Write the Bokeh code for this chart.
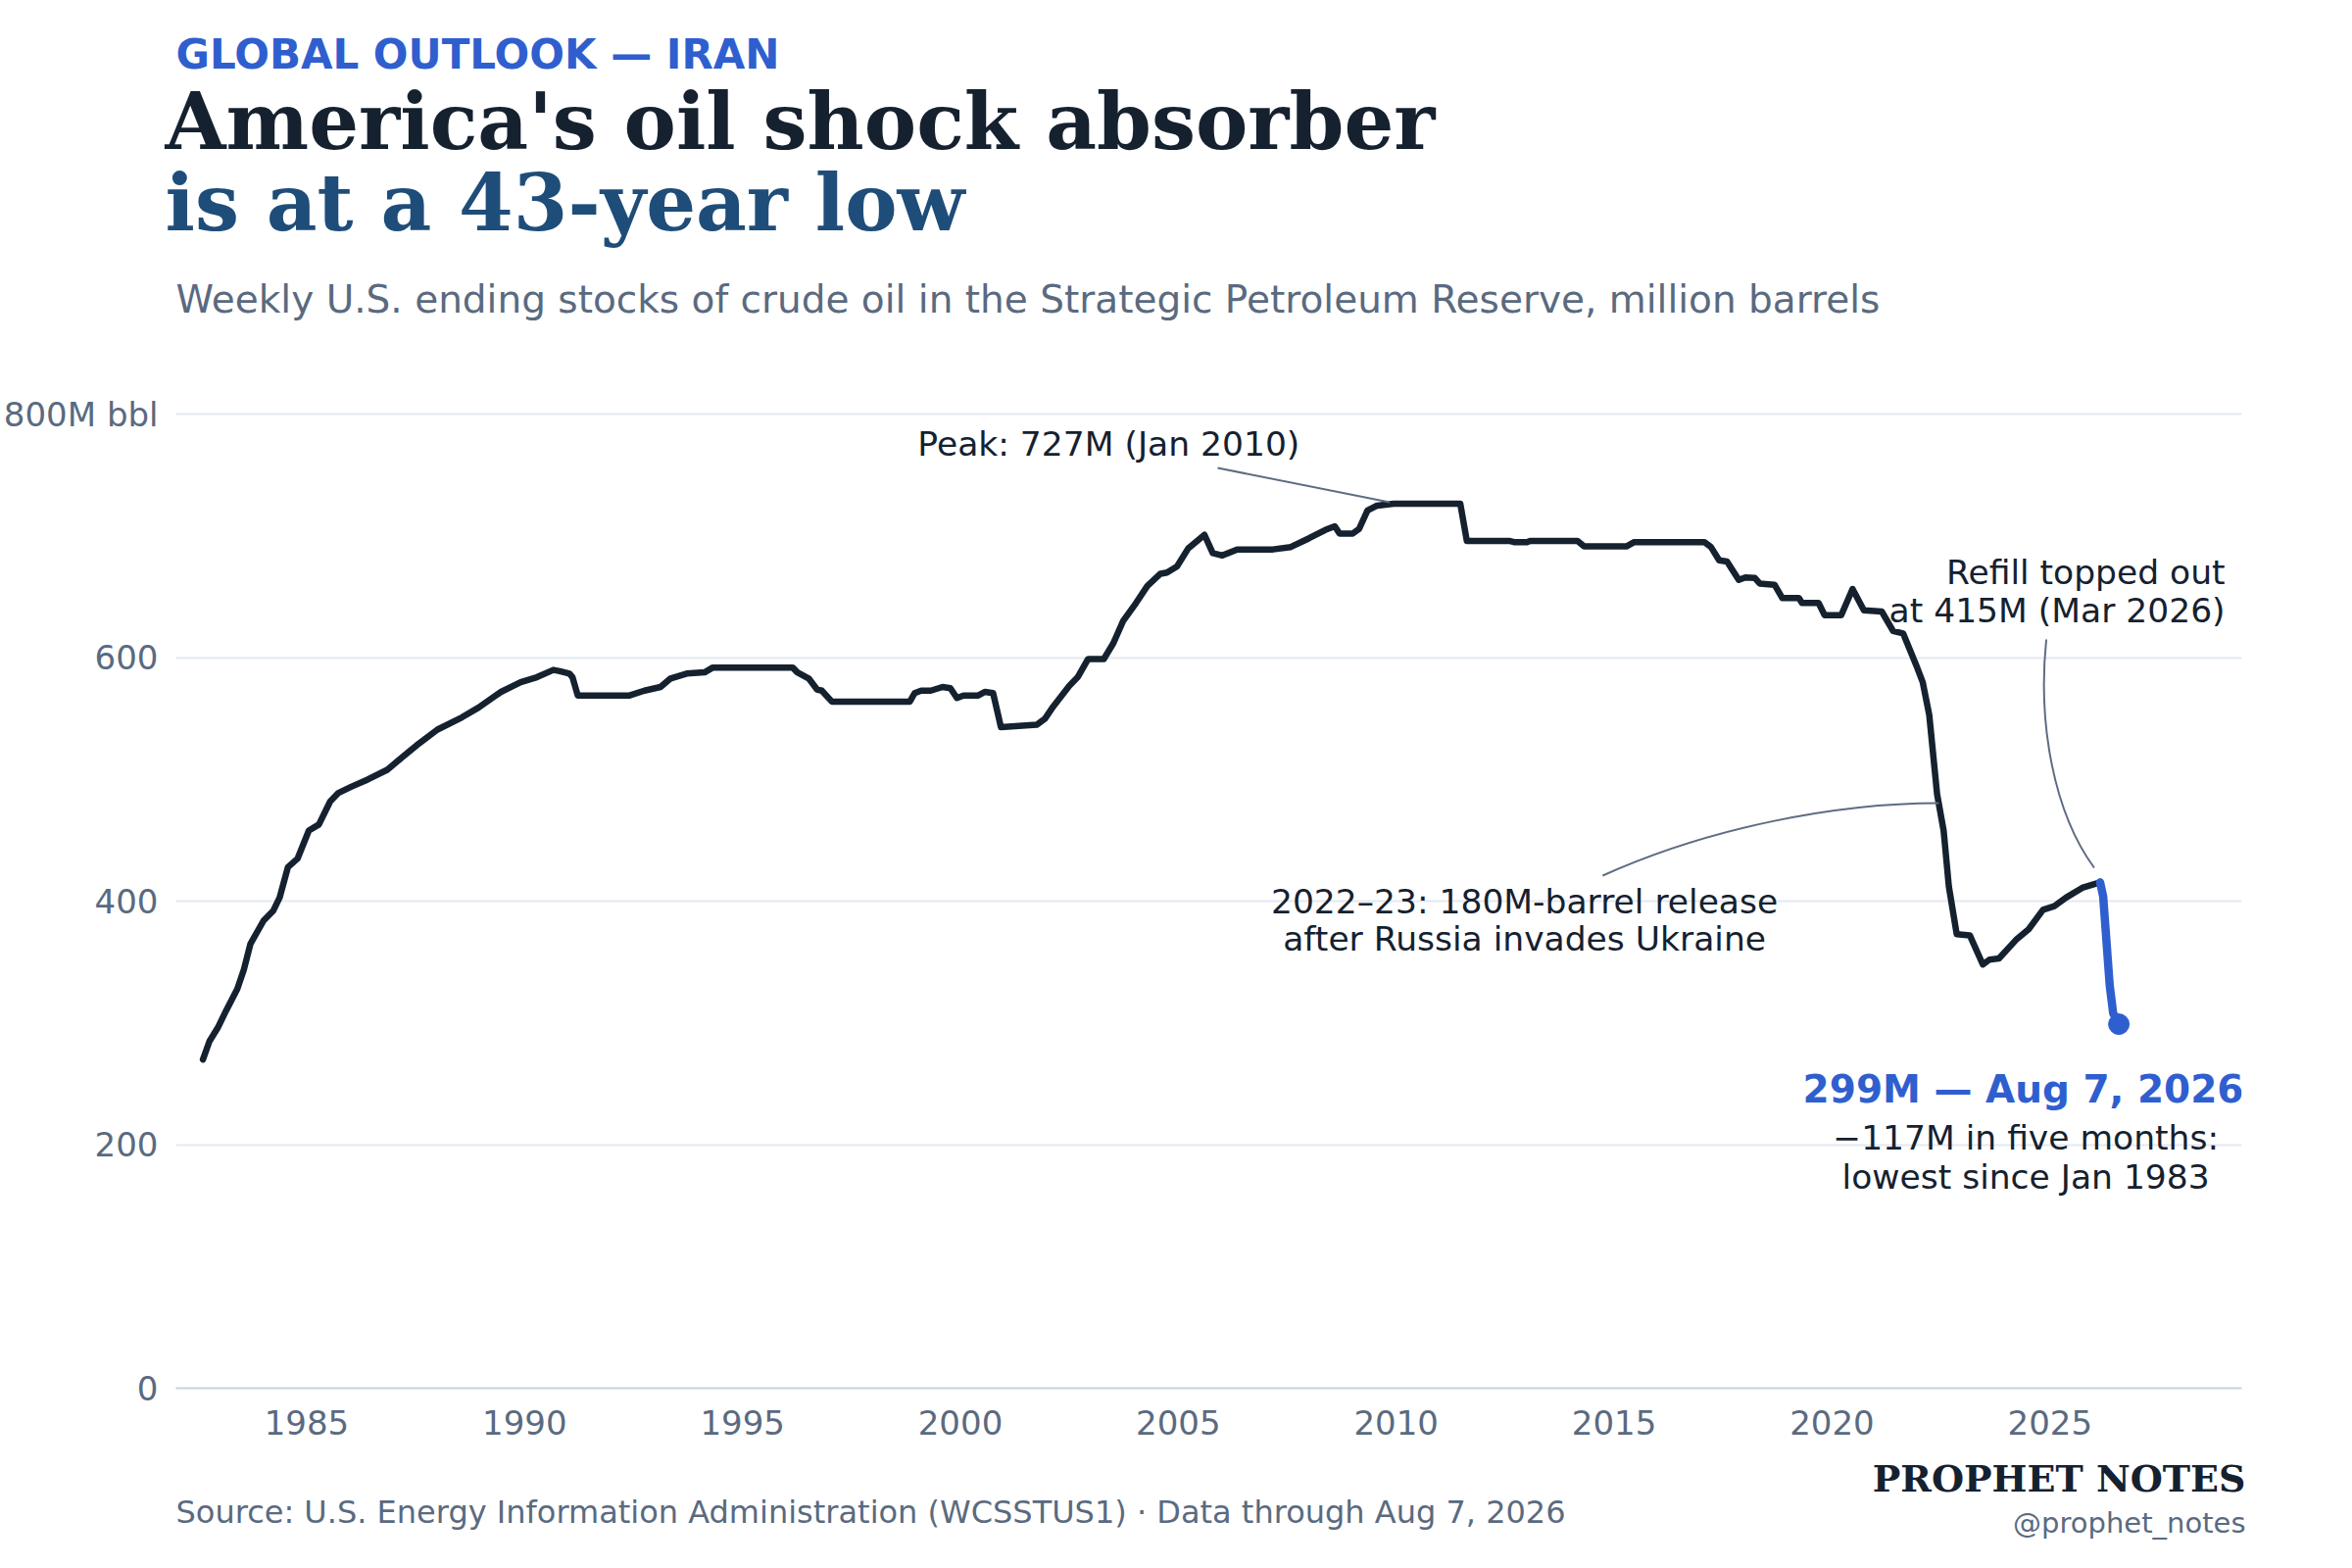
from bokeh.plotting import figure
from bokeh.layouts import column, row
from bokeh.models import Range1d, Label, FixedTicker
from bokeh.embed import file_html
from bokeh.resources import INLINE

# Weekly SPR ending stocks (million barrels)
years = [
    1982.62, 1982.77, 1982.96, 1983.15, 1983.41, 1983.56, 1983.71, 1984.01, 1984.23, 1984.38,
    1984.57, 1984.79, 1985.05, 1985.28, 1985.54, 1985.73, 1986.02, 1986.40, 1986.85, 1987.15,
    1987.52, 1988.00, 1988.56, 1988.94, 1989.46, 1989.91, 1990.28, 1990.66, 1990.81, 1991.03,
    1991.10, 1991.22, 1992.41, 1992.75, 1993.12, 1993.35, 1993.72, 1994.13, 1994.32, 1996.15,
    1996.26, 1996.52, 1996.71, 1996.82, 1997.05, 1998.84, 1998.95, 1999.10, 1999.32, 1999.59,
    1999.77, 1999.92, 2000.07, 2000.41, 2000.56, 2000.75, 2000.93, 2001.34, 2001.75, 2001.94,
    2002.13, 2002.50, 2002.69, 2002.93, 2003.29, 2003.51, 2003.73, 2004.03, 2004.29, 2004.59,
    2004.74, 2004.97, 2005.23, 2005.60, 2005.79, 2006.01, 2006.35, 2007.17, 2007.58, 2007.99,
    2008.37, 2008.59, 2008.70, 2009.00, 2009.15, 2009.34, 2009.56, 2009.94, 2011.47, 2011.62,
    2012.59, 2012.70, 2013.00, 2013.07, 2014.16, 2014.31, 2015.28, 2015.46, 2017.07, 2017.22,
    2017.41, 2017.59, 2017.86, 2018.01, 2018.23, 2018.34, 2018.68, 2018.86, 2019.24, 2019.31,
    2019.69, 2019.83, 2020.21, 2020.47, 2020.73, 2021.14, 2021.40, 2021.63, 2021.78, 2021.93,
    2022.08, 2022.23, 2022.41, 2022.56, 2022.68, 2022.86, 2023.16, 2023.46, 2023.61, 2023.83,
    2024.24, 2024.51, 2024.84, 2025.10, 2025.37, 2025.74, 2026.15,
]
stocks = [
    270, 285, 296, 310, 328, 344, 365, 384, 392, 403,
    428, 435, 458, 463, 482, 489, 494, 500, 508, 517,
    528, 541, 551, 559, 572, 580, 584, 590, 589, 587,
    584, 569, 569, 573, 576, 583, 587, 588, 592, 592,
    588, 583, 574, 573, 564, 564, 571, 573, 573, 576,
    575, 567, 569, 569, 572, 571, 543, 544, 545, 550,
    560, 577, 584, 599, 599, 612, 630, 645, 659, 669,
    670, 675, 690, 701, 686, 684, 689, 689, 691, 698,
    705, 708, 702, 702, 706, 721, 725, 726.5, 726.5, 696,
    696, 695, 695, 696, 696, 691.5, 691.5, 695, 695, 691,
    680, 679, 664, 666, 665.5, 661, 660, 649, 649, 645,
    645, 635, 635, 656.5, 639, 638, 622, 620, 607, 594,
    580, 553, 488, 458, 412, 373, 372, 348, 352, 353,
    369, 377, 393, 396, 403, 411, 415.5,
]

# the 2026 drawdown, drawn in blue
recent_years = [2026.15, 2026.22, 2026.37, 2026.45, 2026.58]
recent_stocks = [415.5, 404, 331, 308, 299]

x_ticks = [1985, 1990, 1995, 2000, 2005, 2010, 2015, 2020, 2025]
y_ticks = [0, 200, 400, 600, 800]

SANS = "DejaVu Sans"
SERIF = "DejaVu Serif"
INK = "#15212f"
NAVY = "#1f4d79"
BLUE = "#2f5fcf"
GRAY = "#5a6a80"
GRID = "#e4e9f1"
LEADER = "#5d6c82"

W = 2384
PAGE_TOP = 1
STRIP_LEFT = 3
HEAD_H, MAIN_H, FOOT_H = 385, 1101, 98
X0, X1 = 1982.0, 2029.4
Y0, Y1 = 0, 830
LEFT, RIGHT, BOTTOM = 173, 97, 70

# page pixel positions of the main frame
F_LEFT, F_RIGHT = 8 + LEFT, 8 + W - RIGHT
F_TOP = PAGE_TOP + HEAD_H
F_BOTTOM = F_TOP + MAIN_H - BOTTOM


def fx(px):
    return X0 + (px - F_LEFT) / (F_RIGHT - F_LEFT) * (X1 - X0)


def fy(py):
    return Y0 + (F_BOTTOM - py) / (F_BOTTOM - F_TOP) * (Y1 - Y0)


def text_panel(top, height):
    # a blank strip whose data units are page pixels
    f = figure(width=W, height=height, x_range=Range1d(STRIP_LEFT, STRIP_LEFT + W),
               y_range=Range1d(top + height, top), output_backend="svg",
               toolbar_location=None, title=None, min_border=0)
    f.axis.visible = False
    f.grid.grid_line_color = None
    f.outline_line_color = None
    return f


def label(fig, text, x, y, size, color, font=SANS, style="normal", align="left"):
    fig.add_layout(Label(x=x, y=y, text=text, text_font=font, text_font_size=size,
                         text_color=color, text_font_style=style,
                         text_align=align, text_baseline="alphabetic"))


# header (y given as the visual middle of each line)
head = text_panel(PAGE_TOP, HEAD_H)
label(head, "GLOBAL OUTLOOK — IRAN", 182, 56, "42px", BLUE, style="bold")
label(head, "America's oil shock absorber", 171, 124, "80px", INK, font=SERIF, style="bold")
label(head, "is at a 43-year low", 171, 207, "80px", NAVY, font=SERIF, style="bold")
label(head, "Weekly U.S. ending stocks of crude oil in the Strategic Petroleum Reserve, million barrels",
      182, 306, "39px", GRAY)

# main chart
p = figure(width=W, height=MAIN_H, x_range=Range1d(X0, X1), y_range=Range1d(Y0, Y1),
           output_backend="svg", toolbar_location=None, title=None,
           min_border_left=LEFT, min_border_right=RIGHT,
           min_border_top=0, min_border_bottom=BOTTOM)
p.outline_line_color = None

p.xgrid.grid_line_color = None
p.ygrid.grid_line_color = GRID
p.ygrid.grid_line_width = 2
p.ygrid.ticker = FixedTicker(ticks=y_ticks)

p.xaxis.ticker = FixedTicker(ticks=x_ticks)
p.xaxis.axis_line_color = "#c9d1dc"
p.xaxis.axis_line_width = 2
p.xaxis.major_tick_line_color = None
p.xaxis.minor_tick_line_color = None
p.xaxis.major_label_text_font = SANS
p.xaxis.major_label_text_font_size = "34px"
p.xaxis.major_label_text_color = GRAY
p.xaxis.major_label_standoff = 16

p.yaxis.ticker = FixedTicker(ticks=y_ticks)
p.yaxis.major_label_overrides = {800: "800M bbl"}
p.yaxis.axis_line_color = None
p.yaxis.major_tick_line_color = None
p.yaxis.minor_tick_line_color = None
p.yaxis.major_label_text_font = SANS
p.yaxis.major_label_text_font_size = "34px"
p.yaxis.major_label_text_color = GRAY
p.yaxis.major_label_standoff = 12

p.line(years, stocks, line_color=INK, line_width=6.5, line_join="round", line_cap="round")
p.line(recent_years, recent_stocks, line_color=BLUE, line_width=8.5, line_join="round", line_cap="round")
p.scatter([recent_years[-1]], [recent_stocks[-1]], size=21, color=BLUE)

# leader lines
p.segment(x0=[fx(1247)], y0=[fy(478)], x1=[fx(1423)], y1=[fy(513)],
          line_color=LEADER, line_width=2)
p.bezier(x0=[fx(1641)], y0=[fy(894)], x1=[fx(1985)], y1=[fy(820)],
         cx0=[fx(1750)], cy0=[fy(845)], cx1=[fx(1880)], cy1=[fy(820)],
         line_color=LEADER, line_width=2)
p.bezier(x0=[fx(2095)], y0=[fy(653)], x1=[fx(2144)], y1=[fy(886)],
         cx0=[fx(2086)], cy0=[fy(740)], cx1=[fx(2103)], cy1=[fy(830)],
         line_color=LEADER, line_width=2)


def note(text, px, py, size, color, style="normal", align="left"):
    label(p, text, fx(px), fy(py), size, color, style=style, align=align)


note("Peak: 727M (Jan 2010)", 940, 453, "34.5px", INK)
note("Refill topped out", 2278, 584, "34.5px", INK, align="right")
note("at 415M (Mar 2026)", 2278, 623, "34.5px", INK, align="right")
note("2022–23: 180M-barrel release", 1561, 920, "34.5px", INK, align="center")
note("after Russia invades Ukraine", 1561, 958, "34.5px", INK, align="center")
note("299M — Aug 7, 2026", 2297, 1112, "39px", BLUE, style="bold", align="right")
note("−117M in five months:", 2074, 1161, "34.5px", INK, align="center")
note("lowest since Jan 1983", 2074, 1201, "34.5px", INK, align="center")

# footer
foot = text_panel(PAGE_TOP + HEAD_H + MAIN_H, FOOT_H)
label(foot, "Source: U.S. Energy Information Administration (WCSSTUS1) · Data through Aug 7, 2026",
      182, 1543, "32px", GRAY)
label(foot, "PROPHET NOTES", 2294, 1509, "38px", INK, font=SERIF, style="bold", align="right")
label(foot, "@prophet_notes", 2294, 1554, "29px", GRAY, align="right")

# wrapping the text strips keeps their frames from lining up with the chart's
page = column(row(head), p, row(foot), spacing=0)
open("out.html", "w").write(file_html(page, INLINE))
